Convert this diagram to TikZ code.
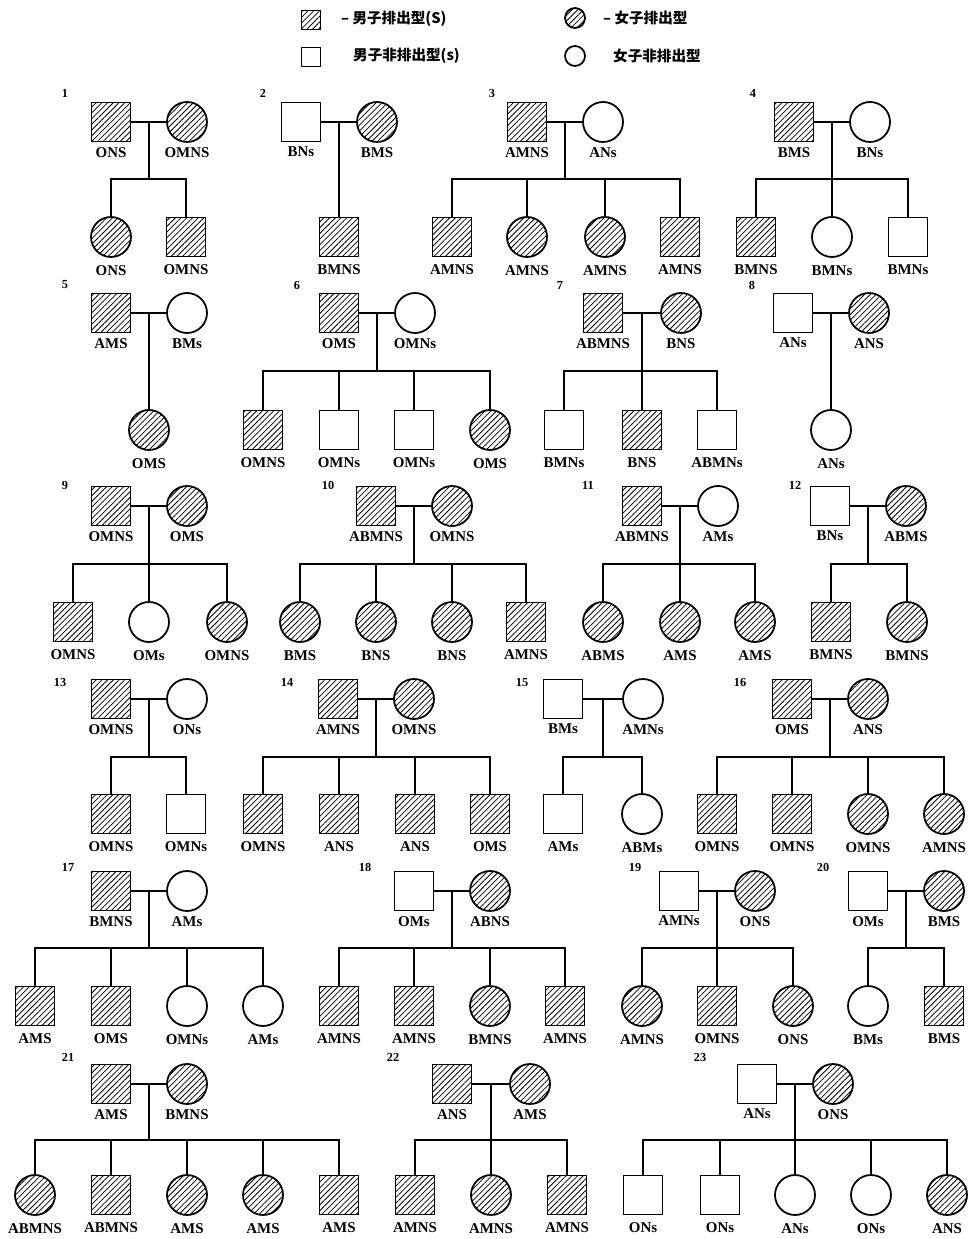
\documentclass[tikz,border=0pt]{standalone}
\usepackage{fontspec}
\setmainfont{Liberation Serif}
\newfontfamily\cjk{Noto Sans CJK SC}
\usetikzlibrary{calc, patterns.meta}

\tikzset{
	sym/.style={draw, line width=1pt, inner sep=0pt},
	mu/.style={sym, rectangle, minimum size=7.8mm},
	fu/.style={sym, circle, minimum size=8mm},
	hatch/.style={pattern={Lines[angle=45,distance=2.3pt,line width=0.45pt]}},
	ma/.style={mu, hatch},
	fa/.style={fu, hatch},
	link/.style={line width=0.9pt},
	num/.style={font=\bfseries\fontsize{7}{8}\selectfont},
	leg/.style={anchor=west, font=\cjk\bfseries\fontsize{8.3}{9}\selectfont},
}

% padres: id, y, x padre, estilo, genotipo, x madre, estilo, genotipo
\newcommand{\couple}[8]{%
	\node[#4, label=below:#5] (f#1) at (#3,#2) {};
	\node[#7, label=below:#8] (m#1) at (#6,#2) {};
	\draw[link] (f#1) -- (m#1);
	\coordinate (d#1) at ($(f#1)!.5!(m#1)$);
}
% hijos: id, y barra, y hijos, lista x/estilo/genotipo
\newcommand{\kids}[4]{%
	\coordinate (b#1) at (d#1 |- 0,#2);
	\draw[link] (d#1) -- (b#1);
	\foreach \xx/\sty/\lbl [count=\i] in {#4}{
		\node[\sty, label={[label distance=1.5pt]below:\lbl}] (k#1-\i) at (\xx,#3) {};
		\draw[link] (b#1) -| (k#1-\i.north);
	}
}

\begin{document}
\begin{tikzpicture}[x=0.02cm, y=-0.02cm,
	every label/.style={font=\bfseries\fontsize{8.5}{10}\selectfont, inner sep=2.5pt}]
	\useasboundingbox (0,0) rectangle (968,1239);
	% leyenda
	\node[ma, minimum size=3.8mm] (lma) at (311,20) {};
	\node[leg] (tma) at (335,19) {– 男子排出型(S)};
	\node[fa, minimum size=4mm] (lfa) at (575,18) {};
	\node[leg] (tfa) at (597,18) {– 女子排出型};
	\node[mu, minimum size=3.8mm] (lmu) at (311,57) {};
	\node[leg] (tmu) at (347,56) {男子非排出型(s)};
	\node[fu, minimum size=4mm] (lfu) at (575,56) {};
	\node[leg] (tfu) at (607,56) {女子非排出型};
	% fila 1
	\node[num] (n1) at (65,93) {1};
	\couple{1}{122}{111}{ma}{ONS}{187}{fa}{OMNS}
	\kids{1}{179}{237}{111/fa/ONS, 186/ma/OMNS}
	\node[num] (n2) at (263,93) {2};
	\couple{2}{122}{301}{mu}{BNs}{377}{fa}{BMS}
	\kids{2}{179}{237}{339/ma/BMNS}
	\node[num] (n3) at (492,93) {3};
	\couple{3}{122}{527}{ma}{AMNS}{603}{fu}{ANs}
	\kids{3}{179}{237}{452/ma/AMNS, 527/fa/AMNS, 605/fa/AMNS, 680/ma/AMNS}
	\node[num] (n4) at (753,93) {4};
	\couple{4}{122}{794}{ma}{BMS}{870}{fu}{BNs}
	\kids{4}{179}{237}{756/ma/BMNS, 832/fu/BMNs, 908/mu/BMNs}
	% fila 2
	\node[num] (n5) at (65,285) {5};
	\couple{5}{313}{111}{ma}{AMS}{187}{fu}{BMs}
	\kids{5}{371}{430}{149/fa/OMS}
	\node[num] (n6) at (297,285) {6};
	\couple{6}{313}{339}{ma}{OMS}{415}{fu}{OMNs}
	\kids{6}{371}{430}{263/ma/OMNS, 339/mu/OMNs, 414/mu/OMNs, 490/fa/OMS}
	\node[num] (n7) at (560,285) {7};
	\couple{7}{313}{603}{ma}{ABMNS}{681}{fa}{BNS}
	\kids{7}{371}{430}{564/mu/BMNs, 642/ma/BNS, 717/mu/ABMNs}
	\node[num] (n8) at (752,285) {8};
	\couple{8}{313}{793}{mu}{ANs}{869}{fa}{ANS}
	\kids{8}{371}{430}{831/fu/ANs}
	% fila 3
	\node[num] (n9) at (65,485) {9};
	\couple{9}{506}{111}{ma}{OMNS}{187}{fa}{OMS}
	\kids{9}{564}{622}{73/ma/OMNS, 149/fu/OMs, 227/fa/OMNS}
	\node[num] (n10) at (328,485) {10};
	\couple{10}{506}{376}{ma}{ABMNS}{452}{fa}{OMNS}
	\kids{10}{564}{622}{300/fa/BMS, 376/fa/BNS, 452/fa/BNS, 526/ma/AMNS}
	\node[num] (n11) at (588,485) {11};
	\couple{11}{506}{642}{ma}{ABMNS}{718}{fu}{AMs}
	\kids{11}{564}{622}{603/fa/ABMS, 680/fa/AMS, 755/fa/AMS}
	\node[num] (n12) at (795,485) {12};
	\couple{12}{506}{830}{mu}{BNs}{906}{fa}{ABMS}
	\kids{12}{564}{622}{831/ma/BMNS, 907/fa/BMNS}
	% fila 4
	\node[num] (n13) at (60,682) {13};
	\couple{13}{699}{111}{ma}{OMNS}{187}{fu}{ONs}
	\kids{13}{757}{814}{111/ma/OMNS, 186/mu/OMNs}
	\node[num] (n14) at (287,682) {14};
	\couple{14}{699}{338}{ma}{AMNS}{414}{fa}{OMNS}
	\kids{14}{757}{814}{263/ma/OMNS, 339/ma/ANS, 415/ma/ANS, 490/ma/OMS}
	\node[num] (n15) at (522,682) {15};
	\couple{15}{699}{563}{mu}{BMs}{643}{fu}{AMNs}
	\kids{15}{757}{814}{563/mu/AMs, 642/fu/ABMs}
	\node[num] (n16) at (740,682) {16};
	\couple{16}{699}{792}{ma}{OMS}{868}{fa}{ANS}
	\kids{16}{757}{814}{717/ma/OMNS, 792/ma/OMNS, 868/fa/OMNS, 944/fa/AMNS}
	% fila 5
	\node[num] (n17) at (68,867) {17};
	\couple{17}{891}{111}{ma}{BMNS}{187}{fu}{AMs}
	\kids{17}{948}{1006}{35/ma/AMS, 111/ma/OMS, 187/fu/OMNs, 263/fu/AMs}
	\node[num] (n18) at (365,867) {18};
	\couple{18}{891}{414}{mu}{OMs}{490}{fa}{ABNS}
	\kids{18}{948}{1006}{339/ma/AMNS, 414/ma/AMNS, 490/fa/BMNS, 565/ma/AMNS}
	\node[num] (n19) at (635,867) {19};
	\couple{19}{891}{679}{mu}{AMNs}{755}{fa}{ONS}
	\kids{19}{948}{1006}{642/fa/AMNS, 717/ma/OMNS, 793/fa/ONS}
	\node[num] (n20) at (823,867) {20};
	\couple{20}{891}{868}{mu}{OMs}{944}{fa}{BMS}
	\kids{20}{948}{1006}{868/fu/BMs, 944/ma/BMS}
	% fila 6
	\node[num] (n21) at (68,1057) {21};
	\couple{21}{1084}{111}{ma}{AMS}{187}{fa}{BMNS}
	\kids{21}{1140}{1195}{35/fa/ABMNS, 111/ma/ABMNS, 187/fa/AMS, 263/fa/AMS, 339/ma/AMS}
	\node[num] (n22) at (393,1057) {22};
	\couple{22}{1084}{452}{ma}{ANS}{530}{fa}{AMS}
	\kids{22}{1140}{1195}{415/ma/AMNS, 491/fa/AMNS, 567/ma/AMNS}
	\node[num] (n23) at (700,1057) {23};
	\couple{23}{1084}{757}{mu}{ANs}{833}{fa}{ONS}
	\kids{23}{1140}{1195}{643/mu/ONs, 720/mu/ONs, 795/fu/ANs, 871/fu/ONs, 947/fa/ANS}
\end{tikzpicture}
\end{document}
